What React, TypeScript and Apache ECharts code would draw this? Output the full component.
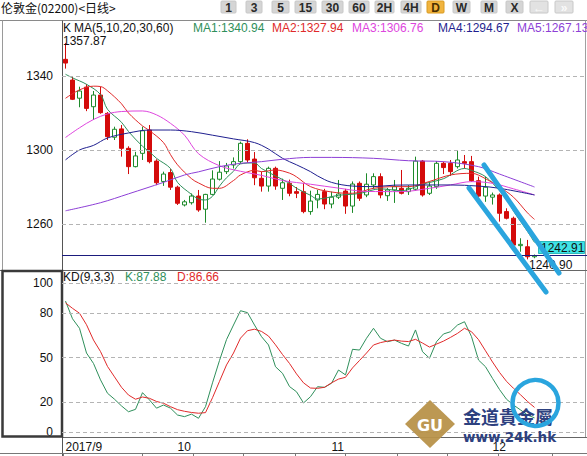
import React, { useEffect, useRef } from 'react';
import * as echarts from 'echarts';

// ---- data ----
const monthLabels = ['2017/9', '10', '11', '12'];
const monthStartBars = [0, 16, 38, 61];

// [open, close, low, high]
const candles: number[][] = [
  [1349, 1347, 1344, 1357.87],
  [1337.8, 1327.4, 1327, 1339.6],
  [1328, 1331.9, 1323.1, 1334.2],
  [1334, 1322.5, 1321, 1335.6],
  [1323.4, 1329.7, 1316.2, 1331.9],
  [1329.7, 1320.2, 1319.6, 1334.2],
  [1319.8, 1307.2, 1305.4, 1320.5],
  [1306.9, 1311.2, 1305.4, 1312.6],
  [1311.4, 1300.9, 1296.4, 1313.5],
  [1300.9, 1291, 1287, 1302],
  [1291, 1296.8, 1290.6, 1299],
  [1298.2, 1310.4, 1294.6, 1312.6],
  [1310.8, 1293.7, 1292.8, 1313.5],
  [1294, 1282.3, 1281, 1295],
  [1283, 1287, 1280.6, 1288.3],
  [1287.8, 1279.9, 1278.4, 1289.7],
  [1279.9, 1271.2, 1270.3, 1280.7],
  [1270.3, 1272, 1269.5, 1273],
  [1271.5, 1275.1, 1270.5, 1276.5],
  [1275.1, 1267.6, 1266.6, 1278.4],
  [1268, 1276, 1260.7, 1276.3],
  [1276, 1284.3, 1275.5, 1289],
  [1284.2, 1288, 1283.5, 1294],
  [1288.3, 1291.4, 1287, 1293],
  [1291.9, 1293.7, 1290, 1296],
  [1293.7, 1303.6, 1292.5, 1304.5],
  [1303.6, 1294.6, 1293, 1305.8],
  [1295.1, 1285, 1281, 1298.9],
  [1284.7, 1280.5, 1277.5, 1288.3],
  [1280.5, 1290.1, 1277.5, 1291],
  [1290.1, 1280.5, 1278.5, 1291],
  [1279.3, 1282.3, 1273, 1284.5],
  [1282, 1276.6, 1275, 1284],
  [1277.5, 1276.6, 1274, 1280],
  [1277.5, 1266.7, 1265.8, 1282],
  [1266.7, 1272.4, 1265, 1278],
  [1273, 1276, 1268.5, 1278.4],
  [1277.5, 1270.8, 1268, 1279],
  [1270.8, 1274.5, 1268.5, 1277.5],
  [1274.5, 1276.2, 1273.5, 1283.8],
  [1277.8, 1269.7, 1265.5, 1279],
  [1269.7, 1281.6, 1266, 1283],
  [1282, 1273.9, 1272.5, 1283],
  [1275.7, 1281.5, 1274.5, 1287.4],
  [1281.1, 1285.6, 1279, 1287.4],
  [1285.6, 1275.7, 1273.9, 1287.4],
  [1275.3, 1278.4, 1272.5, 1279.5],
  [1278.4, 1280.2, 1271.4, 1283.8],
  [1279.3, 1276.6, 1276, 1289.2],
  [1277.5, 1279.3, 1275.7, 1281],
  [1278.8, 1294, 1278, 1296.4],
  [1294, 1275.7, 1274.8, 1294.6],
  [1276.6, 1280.5, 1275.7, 1283],
  [1280.2, 1292.8, 1279, 1294],
  [1292.8, 1290.5, 1287, 1293.7],
  [1292.8, 1288.3, 1286, 1294.6],
  [1291, 1294.6, 1290, 1299.6],
  [1293.7, 1292.8, 1290, 1297.3],
  [1293.7, 1283.4, 1282.8, 1296.8],
  [1283.4, 1275.1, 1273.9, 1285.6],
  [1275.1, 1279.9, 1272, 1285.6],
  [1274.5, 1275.7, 1270.5, 1277],
  [1275.7, 1265.8, 1261.3, 1276.5],
  [1266.7, 1263.1, 1262.5, 1268.5],
  [1263.1, 1248.6, 1246.8, 1264],
  [1248.3, 1249, 1245, 1252.3],
  [1247.7, 1242.3, 1240.9, 1251.4],
  [1242.3, 1242.91, 1241.5, 1243.5],
];

// moving averages read at sample bars: [bar, value]
const ma1: number[][] = [
  [0, 1340.94], [1, 1339], [3, 1335.5], [5, 1330], [6, 1322], [8, 1315], [9, 1310],
  [11, 1302], [12, 1299], [13, 1295.5], [15, 1290], [16, 1282.5], [18, 1276], [19, 1273.5],
  [20, 1273], [21, 1275], [22, 1280.5], [23, 1285], [24, 1288.5], [25, 1292.5], [27, 1293],
  [28, 1290], [30, 1286], [32, 1282], [33, 1279.3], [35, 1275.5], [36, 1273.5], [39, 1275.5],
  [42, 1276.5], [45, 1279], [48, 1278], [51, 1281.5], [54, 1284.5], [57, 1290], [58, 1289],
  [60, 1285.6], [62, 1278], [63, 1274], [64, 1267], [66, 1256], [67, 1250],
];
const ma2: number[][] = [
  [0, 1327.94], [2, 1332.5], [4, 1334.5], [5, 1334.3], [6, 1332], [8, 1325], [9, 1320],
  [11, 1313], [12, 1310.5], [14, 1304], [15, 1297.5], [16, 1292], [18, 1284.5], [19, 1282.2],
  [21, 1279.3], [22, 1279.3], [24, 1283.5], [25, 1286.5], [27, 1289], [28, 1288.3], [30, 1289.2],
  [32, 1287.5], [33, 1285.5], [35, 1280.2], [38, 1277.3], [41, 1276.6], [44, 1279.3], [47, 1280.2],
  [49, 1280.2], [52, 1283], [55, 1286.5], [58, 1287.4], [60, 1284.5], [62, 1280], [64, 1274.5],
  [66, 1266], [67, 1262.5],
];
const ma3: number[][] = [
  [0, 1306.76], [2, 1312], [4, 1316.5], [6, 1319.5], [8, 1320.8], [11, 1321.1], [13, 1319],
  [15, 1314.4], [17, 1308], [19, 1298], [22, 1291.5], [25, 1288.5], [28, 1286.3], [31, 1283.5],
  [35, 1281.5], [39, 1279.4], [43, 1277.6], [48, 1277.5], [52, 1279.3], [55, 1281.1], [58, 1282.9],
  [61, 1282], [64, 1279], [67, 1275.7],
];
const ma4: number[][] = [
  [0, 1294.67], [2, 1300], [4, 1302.5], [6, 1306.5], [9, 1309.2], [12, 1310.8], [15, 1310.8],
  [18, 1309.9], [21, 1308], [24, 1306], [27, 1304], [29, 1300.5], [31, 1295.5], [33, 1292],
  [35, 1288.3], [36, 1286], [38, 1282.5], [41, 1280.5], [44, 1280.2], [47, 1281], [51, 1281.1],
  [55, 1281.1], [59, 1280.5], [62, 1279.3], [67, 1275.7],
];
const ma5: number[][] = [
  [0, 1267.13], [5, 1271.5], [9, 1276.3], [14, 1282.5], [17, 1286.5], [19, 1288.2], [22, 1291],
  [25, 1292.8], [28, 1293.7], [31, 1295], [35, 1296], [38, 1296], [44, 1295.5], [49, 1294.2],
  [54, 1293.7], [59, 1291], [62, 1287], [67, 1280],
];

const kValues = [
  87.88, 76, 69.6, 53, 46, 35, 26, 22, 17.5, 13.6, 15.2, 26.4, 21.5, 16, 18.1, 16, 11.4, 10.3,
  12, 9.2, 17, 33, 48, 62, 71.8, 81.4, 80.1, 71.8, 64, 58.4, 43.8, 39.4, 30.5, 27, 19.5, 23.7,
  30.4, 30, 32.7, 41.6, 38.3, 55.5, 55, 62.9, 69.6, 62.9, 60.6, 61.7, 59.5, 57.7, 68.5, 53.9,
  49.5, 60.6, 65.8, 67.3, 71.8, 74, 64, 48.3, 43.8, 36, 28.5, 22, 18.1, 14.8, 11.4, 9.5,
];
const dValues = [
  86.66, 83, 79.7, 72, 61.7, 54, 44, 37, 30, 24.8, 22, 23.5, 22.6, 20.5, 19.3, 17, 15, 13.9,
  13.1, 12.6, 13, 23, 34, 45, 53, 63, 68, 69, 67.5, 64.4, 58.5, 52, 46, 39, 33, 29.5,
  29.3, 30, 33, 35.5, 36.7, 43, 48, 53, 58.4, 60, 61, 61.7, 61, 60.7, 62.2, 59.7,
  57, 59, 61, 63.5, 66.2, 69.6, 67.3, 62, 54.5, 47, 40, 34, 29.3, 25, 20.5, 16.5,
];

const priceGridValues = [1260, 1300, 1340];
const kdLabelValues = [0, 20, 50, 80, 100];

const FONT = '"Liberation Sans", Arial, "Noto Sans CJK SC", sans-serif';
const CJK = '"Noto Sans CJK SC", "Liberation Sans", sans-serif';
const C_MA1 = '#2f8f5b';
const C_MA2 = '#e02a2a';
const C_MA3 = '#de45de';
const C_MA4 = '#1f1f8f';
const C_MA5 = '#8d3fd6';
const C_UP = '#1d8a2a';
const C_DOWN = '#d40b0b';
const C_DRAW = '#2aa5de';

export default function App() {
  const ref = useRef<HTMLDivElement>(null);

  useEffect(() => {
    if (!ref.current) return;
    const chart = echarts.init(ref.current, null, { renderer: 'svg' });

    const slots = 75;
    const cats = Array.from({ length: slots }, (_, i) => 'b' + i);
    const lastClose = candles[candles.length - 1][1];
    const lowest = Math.min(...candles.map((c) => c[2]));
    const firstHigh = candles[0][3];

    const buttons: [string, number, number][] = [
      ['1', 221, 236], ['3', 246, 262], ['5', 272, 289], ['15', 295, 316], ['30', 322, 343],
      ['60', 349, 369], ['2H', 375, 394], ['4H', 401, 421], ['D', 427, 444], ['W', 453, 470],
      ['M', 481, 497], ['X', 506, 523], ['\u2190', 530, 548], ['\u00bb', 555, 573],
    ];
    const btnGraphics: any[] = [];
    buttons.forEach(([t, x0, x1]) => {
      const active = t === 'D';
      const arrow = t === '\u2190' || t === '\u00bb';
      btnGraphics.push({
        type: 'rect', z: 5,
        shape: { x: x0, y: 1, width: x1 - x0, height: 12, r: 1 },
        style: { fill: active ? '#f1b43e' : arrow ? '#e2e2e2' : '#d5d5d5', stroke: active ? '#d99a20' : '#c8c8c8', lineWidth: 1 },
      });
      btnGraphics.push({
        type: 'text', z: 6, x: (x0 + x1) / 2, y: 7.5,
        style: { text: t, fill: arrow ? '#fafafa' : active ? '#4a2f00' : '#2a2a2a', font: `bold 12px ${FONT}`, align: 'center', verticalAlign: 'middle' },
      });
    });

    const line = (x1: number, y1: number, x2: number, y2: number, stroke: string, lw = 1, z = 4) => ({
      type: 'line', z, silent: true, shape: { x1, y1, x2, y2 }, style: { stroke, lineWidth: lw },
    });

    const bottomTicks = [63, 142, 193, 243, 295, 345, 397, 447, 498, 552];

    const legendItems: [string, number, string][] = [
      [`MA1:${ma1[0][1].toFixed(2)}`, 193, C_MA1],
      [`MA2:${ma2[0][1].toFixed(2)}`, 272, C_MA2],
      [`MA3:${ma3[0][1].toFixed(2)}`, 352, C_MA3],
      [`MA4:${ma4[0][1].toFixed(2)}`, 438, C_MA4],
      [`MA5:${ma5[0][1].toFixed(2)}`, 517, C_MA5],
    ];

    const txt = (text: string, x: number, y: number, fill: string, font = `12px ${FONT}`, align = 'left', z = 6) => ({
      type: 'text', z, x, y, silent: true, style: { text, fill, font, align, verticalAlign: 'middle' },
    });

    const graphics: any[] = [
      // title bar
      txt('伦敦金(02200)<日线>', 1, 7, '#111', `12px ${CJK}`),
      ...btnGraphics,
      line(0, 20.5, 587, 20.5, '#8a8a8a'),
      // frames
      line(62.5, 20.5, 62.5, 456, '#555'),
      line(2.5, 20.5, 2.5, 270, '#9a9a9a'),
      line(585.5, 20.5, 585.5, 437, '#a0a0a0'),
      line(0, 270.5, 587, 270.5, '#666'),
      line(62.5, 437.5, 587, 437.5, '#666'),
      line(0, 453.5, 587, 453.5, '#777'),
      ...bottomTicks.map((x) => line(x + 0.5, 453.5, x + 0.5, 456, '#777')),
      { type: 'rect', z: 5, silent: true, shape: { x: 2.5, y: 271, width: 59.5, height: 165.5 }, style: { fill: 'none', stroke: '#3a3a3a', lineWidth: 2.5 } },
      // legends
      txt('K', 63, 28, '#111'),
      txt('MA(5,10,20,30,60)', 74, 28, '#111'),
      ...legendItems.map(([t, x, c]) => txt(t, x, 28, c)),
      txt('KD(9,3,3)', 63, 277, '#111'),
      txt(`K:${kValues[0].toFixed(2)}`, 125, 277, C_MA1),
      txt(`D:${dValues[0].toFixed(2)}`, 177, 277, C_MA2),
      // price annotations
      txt(firstHigh.toFixed(2), 63, 41, '#111'),
      { type: 'rect', z: 7, silent: true, shape: { x: 538.5, y: 241.5, width: 46, height: 12 }, style: { fill: '#3fe3e6', stroke: '#2bb8bb', lineWidth: 1 } },
      txt(lastClose.toFixed(2), 541, 247.5, '#111', `12px ${FONT}`, 'left', 8),
      txt(lowest.toFixed(2), 529, 264.5, '#111', `12px ${FONT}`, 'left', 8),
      // drawn annotations
      { type: 'line', z: 20, silent: true, shape: { x1: 484, y1: 165, x2: 559, y2: 273 }, style: { stroke: C_DRAW, lineWidth: 5, lineCap: 'round' } },
      { type: 'line', z: 20, silent: true, shape: { x1: 469, y1: 188, x2: 546, y2: 292 }, style: { stroke: C_DRAW, lineWidth: 5, lineCap: 'round' } },
      { type: 'circle', z: 20, silent: true, shape: { cx: 535.5, cy: 403, r: 23 }, style: { fill: 'none', stroke: C_DRAW, lineWidth: 4.5 } },
      // watermark logo
      { type: 'polygon', z: 15, silent: true, shape: { points: [[405, 424], [430, 400], [455, 424], [430, 448]] }, style: { fill: '#b8924a', opacity: 0.95 } },
      txt('GU', 430, 425, '#ffffff', `bold 16px "DejaVu Sans", sans-serif`, 'center', 16),
      txt('金道貴金屬', 463, 416, '#2d417f', `bold 18px ${CJK}`, 'left', 16),
      txt('www.24k.hk', 463, 436.5, '#2d417f', `bold 13.5px "DejaVu Sans", sans-serif`, 'left', 16),
    ];

    const maSeries = (name: string, data: number[][], color: string) => ({
      name, type: 'line', xAxisIndex: 0, yAxisIndex: 0, data, smooth: 0.35, showSymbol: false,
      symbol: 'none', z: 3, silent: true, lineStyle: { color, width: 1 }, itemStyle: { color },
    });

    chart.setOption({
      animation: false,
      backgroundColor: '#ffffff',
      textStyle: { fontFamily: FONT },
      grid: [
        { left: 62, width: 525, top: 2, height: 296 },
        { left: 62, width: 525, top: 283, height: 149 },
      ],
      xAxis: [
        { type: 'category', gridIndex: 0, data: cats, boundaryGap: true, axisLine: { show: false }, axisTick: { show: false }, axisLabel: { show: false }, splitLine: { show: false } },
        {
          type: 'category', gridIndex: 1, data: cats, boundaryGap: true,
          axisLine: { show: false }, axisTick: { show: false }, splitLine: { show: false },
          axisLabel: {
            show: true, margin: 9, color: '#111', fontSize: 12, fontFamily: FONT, align: 'left',
            interval: (index: number) => monthStartBars.includes(index),
            formatter: (_v: string, index: number) => {
              const k = monthStartBars.indexOf(index);
              return k >= 0 ? monthLabels[k] : '';
            },
          },
        },
      ],
      yAxis: [
        {
          type: 'value', gridIndex: 0, min: 1220, max: 1380, interval: 40, scale: true,
          axisLine: { show: false }, axisTick: { show: false }, splitLine: { show: false },
          axisLabel: {
            margin: 9, color: '#111', fontSize: 12, fontFamily: FONT, showMinLabel: false, showMaxLabel: false,
            formatter: (v: number) => String(v),
          },
        },
        {
          type: 'value', gridIndex: 1, min: 0, max: 100, interval: 10,
          axisLine: { show: false }, axisTick: { show: false }, splitLine: { show: false },
          axisLabel: {
            margin: 9, color: '#111', fontSize: 12, fontFamily: FONT,
            formatter: (v: number) => (kdLabelValues.includes(v) ? String(v) : ''),
          },
        },
      ],
      series: [
        {
          type: 'candlestick', xAxisIndex: 0, yAxisIndex: 0, data: candles, barWidth: 5, z: 2, silent: true,
          itemStyle: { color: '#ffffff', color0: C_DOWN, borderColor: C_UP, borderColor0: C_DOWN, borderWidth: 1 },
          markLine: {
            silent: true, symbol: ['none', 'none'], label: { show: false }, animation: false,
            lineStyle: { type: [4, 3], color: '#b4b4b4', width: 1 },
            data: [
              ...priceGridValues.map((v) => ({ yAxis: v })),
              { yAxis: lastClose, lineStyle: { type: 'solid', color: '#1b1b7d', width: 1 } },
            ],
          },
        },
        maSeries('MA1', ma1, C_MA1),
        maSeries('MA2', ma2, C_MA2),
        maSeries('MA3', ma3, C_MA3),
        maSeries('MA4', ma4, C_MA4),
        maSeries('MA5', ma5, C_MA5),
        {
          name: 'K', type: 'line', xAxisIndex: 1, yAxisIndex: 1, data: kValues, showSymbol: false, symbol: 'none',
          silent: true, lineStyle: { color: C_MA1, width: 1 }, z: 3,
          markLine: {
            silent: true, symbol: ['none', 'none'], label: { show: false }, animation: false,
            lineStyle: { type: [4, 3], color: '#b4b4b4', width: 1 },
            data: kdLabelValues.map((v) => ({ yAxis: v })),
          },
        },
        {
          name: 'D', type: 'line', xAxisIndex: 1, yAxisIndex: 1, data: dValues, showSymbol: false, symbol: 'none',
          silent: true, lineStyle: { color: C_MA2, width: 1 }, z: 3,
        },
      ],
      graphic: graphics,
    });

    return () => chart.dispose();
  }, []);

  return (
    <div
      ref={ref}
      style={{ position: 'fixed', left: 0, top: 0, width: 587, height: 456, background: '#fff' }}
    />
  );
}
